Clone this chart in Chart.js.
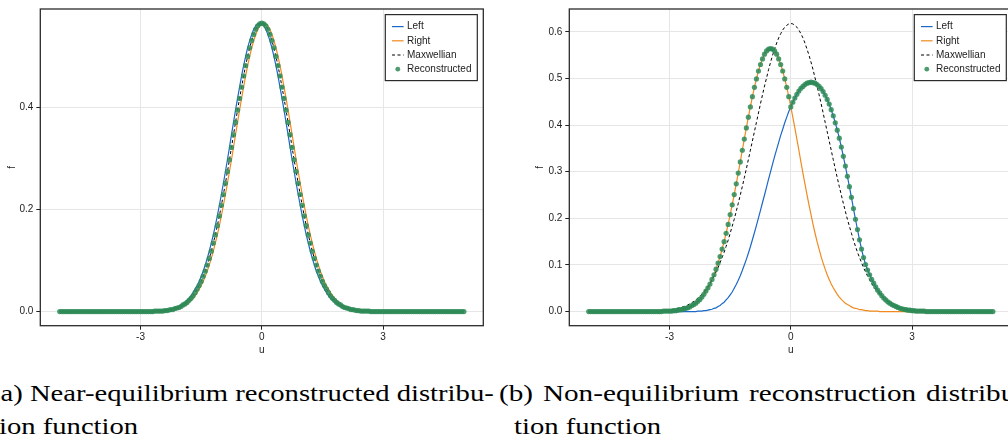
<!DOCTYPE html>
<html>
<head>
<meta charset="utf-8">
<script src="https://cdn.jsdelivr.net/npm/chart.js@4.4.1/dist/chart.umd.min.js"></script>
<style>
html, body { margin: 0; padding: 0; background: #fff; }
body { width: 1008px; height: 443px; overflow: hidden; position: relative; }
.panel { position: absolute; top: 0; }
.cap { position: absolute; font-family: "Liberation Serif", serif; font-size: 23px; color: #000; white-space: nowrap; line-height: 23px; transform: scaleX(1.245); transform-origin: 0 0; }
</style>
</head>
<body>
<div class="panel" style="left:0px"><canvas id="chartA" width="500" height="360"></canvas></div>
<div class="panel" style="left:528px"><canvas id="chartB" width="500" height="360"></canvas></div>
<div class="cap" style="left:-9px;top:382px">(a) Near-equilibrium reconstructed distribu-</div>
<div class="cap" style="left:-9px;top:415px">tion function</div>
<div class="cap" style="left:499px;top:382px;word-spacing:2px;transform:scaleX(1.27)">(b) Non-equilibrium reconstruction distribu-</div>
<div class="cap" style="left:514px;top:415px">tion function</div>
<script>
// velocity grid u (shared by both panels)
const uGrid = [
  -5,-4.95,-4.9,-4.85,-4.8,-4.75,-4.7,-4.65,-4.6,-4.55,
  -4.5,-4.45,-4.4,-4.35,-4.3,-4.25,-4.2,-4.15,-4.1,-4.05,
  -4,-3.95,-3.9,-3.85,-3.8,-3.75,-3.7,-3.65,-3.6,-3.55,
  -3.5,-3.45,-3.4,-3.35,-3.3,-3.25,-3.2,-3.15,-3.1,-3.05,
  -3,-2.95,-2.9,-2.85,-2.8,-2.75,-2.7,-2.65,-2.6,-2.55,
  -2.5,-2.45,-2.4,-2.35,-2.3,-2.25,-2.2,-2.15,-2.1,-2.05,
  -2,-1.95,-1.9,-1.85,-1.8,-1.75,-1.7,-1.65,-1.6,-1.55,
  -1.5,-1.45,-1.4,-1.35,-1.3,-1.25,-1.2,-1.15,-1.1,-1.05,
  -1,-0.95,-0.9,-0.85,-0.8,-0.75,-0.7,-0.65,-0.6,-0.55,
  -0.5,-0.45,-0.4,-0.35,-0.3,-0.25,-0.2,-0.15,-0.1,-0.05,
  0,
  0.05,0.1,0.15,0.2,0.25,0.3,0.35,0.4,0.45,0.5,
  0.55,0.6,0.65,0.7,0.75,0.8,0.85,0.9,0.95,1,
  1.05,1.1,1.15,1.2,1.25,1.3,1.35,1.4,1.45,1.5,
  1.55,1.6,1.65,1.7,1.75,1.8,1.85,1.9,1.95,2,
  2.05,2.1,2.15,2.2,2.25,2.3,2.35,2.4,2.45,2.5,
  2.55,2.6,2.65,2.7,2.75,2.8,2.85,2.9,2.95,3,
  3.05,3.1,3.15,3.2,3.25,3.3,3.35,3.4,3.45,3.5,
  3.55,3.6,3.65,3.7,3.75,3.8,3.85,3.9,3.95,4,
  4.05,4.1,4.15,4.2,4.25,4.3,4.35,4.4,4.45,4.5,
  4.55,4.6,4.65,4.7,4.75,4.8,4.85,4.9,4.95,5
];

// (a) near-equilibrium
const leftA = [
  0,0,0,0,0,0,0,0,0,0, 0,0,0,0,0,0,0,0,0,0, 0,0,0,0,0,0,0,0,0,0, 0,0,0,0,0,0,0,0,0,0,
  0,0,0,0,0,0,.001,.001,.001,.001,
  .001,.002,.002,.003,.004,.004,.006,.007,.008,.010,
  .013,.015,.018,.022,.026,.031,.037,.044,.051,.059,
  .069,.079,.091,.104,.118,.134,.150,.168,.187,.208,
  .229,.251,.274,.297,.321,.346,.370,.394,.417,.439,
  .461,.481,.499,.516,.530,.542,.552,.559,.563,.564,
  .563,
  .559,.552,.542,.530,.516,.499,.481,.461,.439,.417,
  .394,.370,.346,.321,.297,.274,.251,.229,.208,.187,
  .168,.150,.134,.118,.104,.091,.079,.069,.059,.051,
  .044,.037,.031,.026,.022,.018,.015,.013,.010,.008,
  .007,.006,.004,.004,.003,.002,.002,.001,.001,.001,
  .001,.001,0,0,0,0,0,0,0,0,
  0,0,0,0,0,0,0,0,0,0, 0,0,0,0,0,0,0,0,0,0, 0,0,0,0,0,0,0,0,0,0, 0,0,0,0,0,0,0,0,0,0
];
const rightA = [
  0,0,0,0,0,0,0,0,0,0, 0,0,0,0,0,0,0,0,0,0, 0,0,0,0,0,0,0,0,0,0, 0,0,0,0,0,0,0,0,0,0,
  0,0,0,0,0,0,0,0,.001,.001,
  .001,.001,.001,.002,.002,.003,.004,.004,.006,.007,
  .008,.010,.013,.015,.018,.022,.026,.031,.037,.044,
  .051,.059,.069,.079,.091,.104,.118,.134,.150,.168,
  .187,.208,.229,.251,.274,.297,.321,.346,.370,.394,
  .417,.439,.461,.481,.499,.516,.530,.542,.552,.559,
  .563,
  .564,.563,.559,.552,.542,.530,.516,.499,.481,.461,
  .439,.417,.394,.370,.346,.321,.297,.274,.251,.229,
  .208,.187,.168,.150,.134,.118,.104,.091,.079,.069,
  .059,.051,.044,.037,.031,.026,.022,.018,.015,.013,
  .010,.008,.007,.006,.004,.004,.003,.002,.002,.001,
  .001,.001,.001,.001,0,0,0,0,0,0,
  0,0,0,0,0,0,0,0,0,0, 0,0,0,0,0,0,0,0,0,0, 0,0,0,0,0,0,0,0,0,0, 0,0,0,0,0,0,0,0,0,0
];
const maxwA = [
  0,0,0,0,0,0,0,0,0,0, 0,0,0,0,0,0,0,0,0,0, 0,0,0,0,0,0,0,0,0,0, 0,0,0,0,0,0,0,0,0,0,
  0,0,0,0,0,0,0,.001,.001,.001,
  .001,.001,.002,.002,.003,.004,.004,.006,.007,.008,
  .010,.013,.015,.018,.022,.026,.031,.037,.044,.051,
  .059,.069,.079,.091,.104,.118,.134,.150,.168,.187,
  .208,.229,.251,.274,.297,.321,.346,.370,.394,.417,
  .439,.461,.481,.499,.516,.530,.542,.552,.559,.563,
  .564,
  .563,.559,.552,.542,.530,.516,.499,.481,.461,.439,
  .417,.394,.370,.346,.321,.297,.274,.251,.229,.208,
  .187,.168,.150,.134,.118,.104,.091,.079,.069,.059,
  .051,.044,.037,.031,.026,.022,.018,.015,.013,.010,
  .008,.007,.006,.004,.004,.003,.002,.002,.001,.001,
  .001,.001,.001,0,0,0,0,0,0,0,
  0,0,0,0,0,0,0,0,0,0, 0,0,0,0,0,0,0,0,0,0, 0,0,0,0,0,0,0,0,0,0, 0,0,0,0,0,0,0,0,0,0
];
const reconA = [
  0,0,0,0,0,0,0,0,0,0, 0,0,0,0,0,0,0,0,0,0, 0,0,0,0,0,0,0,0,0,0, 0,0,0,0,0,0,0,0,0,0,
  0,0,0,0,0,0,0,.001,.001,.001,
  .001,.001,.002,.002,.003,.004,.004,.006,.007,.008,
  .010,.013,.015,.018,.022,.026,.031,.037,.044,.051,
  .059,.069,.079,.091,.104,.118,.134,.150,.168,.187,
  .208,.229,.251,.274,.297,.321,.346,.370,.394,.417,
  .439,.461,.481,.499,.516,.530,.542,.552,.559,.563,
  .564,
  .563,.559,.552,.542,.530,.516,.499,.481,.461,.439,
  .417,.394,.370,.346,.321,.297,.274,.251,.229,.208,
  .187,.168,.150,.134,.118,.104,.091,.079,.069,.059,
  .051,.044,.037,.031,.026,.022,.018,.015,.013,.010,
  .008,.007,.006,.004,.004,.003,.002,.002,.001,.001,
  .001,.001,.001,0,0,0,0,0,0,0,
  0,0,0,0,0,0,0,0,0,0, 0,0,0,0,0,0,0,0,0,0, 0,0,0,0,0,0,0,0,0,0, 0,0,0,0,0,0,0,0,0,0
];

// (b) non-equilibrium
const leftB = [
  0,0,0,0,0,0,0,0,0,0, 0,0,0,0,0,0,0,0,0,0, 0,0,0,0,0,0,0,0,0,0, 0,0,0,0,0,0,0,0,0,0,
  0,0,0,0,0,0,0,0,0,0,
  0,0,0,0,.001,.001,.001,.002,.002,.003,
  .004,.005,.007,.008,.011,.013,.017,.020,.025,.030,
  .036,.042,.050,.058,.067,.077,.088,.100,.112,.125,
  .139,.154,.169,.185,.201,.217,.234,.250,.267,.284,
  .300,.317,.333,.348,.363,.378,.391,.405,.417,.429,
  .439,
  .449,.458,.466,.473,.479,.483,.487,.490,.491,.492,
  .491,.490,.487,.483,.478,.472,.464,.455,.445,.433,
  .420,.405,.389,.372,.353,.333,.312,.290,.268,.245,
  .221,.198,.176,.154,.134,.116,.101,.089,.079,.069,
  .061,.053,.046,.040,.034,.029,.025,.021,.018,.015,
  .013,.011,.009,.007,.006,.005,.004,.003,.003,.002,
  .002,.001,.001,.001,.001,.001,0,0,0,0,
  0,0,0,0,0,0,0,0,0,0, 0,0,0,0,0,0,0,0,0,0, 0,0,0,0,0,0,0,0,0,0
];
const rightB = [
  0,0,0,0,0,0,0,0,0,0, 0,0,0,0,0,0,0,0,0,0, 0,0,0,0,0,0,0,0,0,0,
  0,0,0,0,0,0,0,.001,.001,.001,
  .001,.001,.002,.002,.003,.004,.004,.006,.007,.008,
  .010,.013,.015,.018,.022,.026,.031,.037,.044,.051,
  .059,.069,.079,.091,.104,.118,.134,.150,.168,.187,
  .208,.229,.251,.274,.297,.321,.346,.370,.394,.417,
  .439,.461,.481,.499,.516,.530,.542,.552,.559,.563,
  .564,.563,.559,.552,.542,.530,.516,.499,.481,.461,
  .439,
  .417,.394,.370,.346,.321,.297,.274,.251,.229,.208,
  .187,.168,.150,.134,.118,.104,.091,.079,.069,.059,
  .051,.044,.037,.031,.026,.022,.018,.015,.013,.010,
  .008,.007,.006,.004,.004,.003,.002,.002,.001,.001,
  .001,.001,.001,0,0,0,0,0,0,0,
  0,0,0,0,0,0,0,0,0,0, 0,0,0,0,0,0,0,0,0,0, 0,0,0,0,0,0,0,0,0,0,
  0,0,0,0,0,0,0,0,0,0, 0,0,0,0,0,0,0,0,0,0
];
const maxwB = [
  0,0,0,0,0,0,0,0,0,0, 0,0,0,0,0,0,0,0,0,0, 0,0,0,0,0,0,0,0,0,0,
  .001,.001,.001,.001,.001,.001,.002,.002,.002,.003,
  .003,.004,.005,.006,.007,.008,.009,.011,.012,.014,
  .017,.019,.022,.025,.029,.033,.037,.042,.048,.054,
  .061,.068,.076,.085,.094,.105,.116,.127,.140,.153,
  .168,.183,.198,.215,.232,.250,.268,.287,.306,.326,
  .346,.366,.386,.406,.426,.446,.465,.484,.501,.519,
  .535,.550,.563,.576,.587,.596,.604,.610,.614,.617,
  .618,
  .617,.614,.610,.604,.596,.587,.576,.563,.550,.535,
  .519,.501,.484,.465,.446,.426,.406,.386,.366,.346,
  .326,.306,.287,.268,.250,.232,.215,.198,.183,.168,
  .153,.140,.127,.116,.105,.094,.085,.076,.068,.061,
  .054,.048,.042,.037,.033,.029,.025,.022,.019,.017,
  .014,.012,.011,.009,.008,.007,.006,.005,.004,.003,
  .003,.002,.002,.002,.001,.001,.001,.001,.001,.001,
  0,0,0,0,0,0,0,0,0,0, 0,0,0,0,0,0,0,0,0,0, 0,0,0,0,0,0,0,0,0,0
];
const reconB = [
  0,0,0,0,0,0,0,0,0,0, 0,0,0,0,0,0,0,0,0,0, 0,0,0,0,0,0,0,0,0,0,
  0,0,0,0,0,0,0,.001,.001,.001,
  .001,.001,.002,.002,.003,.004,.004,.006,.007,.008,
  .010,.013,.015,.018,.022,.026,.031,.037,.044,.051,
  .059,.069,.079,.091,.104,.118,.134,.150,.168,.187,
  .208,.229,.251,.274,.297,.321,.346,.370,.394,.417,
  .439,.461,.481,.499,.516,.530,.542,.552,.559,.563,
  .564,.563,.559,.552,.542,.530,.516,.499,.481,.461,
  .439,
  .449,.458,.466,.473,.479,.483,.487,.490,.491,.492,
  .491,.490,.487,.483,.478,.472,.464,.455,.445,.433,
  .420,.405,.389,.372,.353,.333,.312,.290,.268,.245,
  .221,.198,.176,.154,.134,.116,.101,.089,.079,.069,
  .061,.053,.046,.040,.034,.029,.025,.021,.018,.015,
  .013,.011,.009,.007,.006,.005,.004,.003,.003,.002,
  .002,.001,.001,.001,.001,.001,0,0,0,0,
  0,0,0,0,0,0,0,0,0,0, 0,0,0,0,0,0,0,0,0,0, 0,0,0,0,0,0,0,0,0,0
];

const xTicks = [-3, 0, 3];
const yTicksA = [0, 0.2, 0.4];
const yTicksB = [0, 0.1, 0.2, 0.3, 0.4, 0.5, 0.6];
const labels = ['Left', 'Right', 'Maxwellian', 'Reconstructed'];

const BLUE = '#1a68c8';
const ORANGE = '#f08a1e';
const GREEN = 'rgba(46,139,87,0.85)';
const FONT = 'Liberation Sans';

function pts(ys) {
  return uGrid.map((u, i) => ({ x: u, y: ys[i] }));
}

// box frame + boxed legend in the upper right corner
const frameLegend = {
  id: 'frameLegend',
  afterDraw(chart) {
    const ctx = chart.ctx, a = chart.chartArea;
    ctx.save();
    ctx.strokeStyle = '#2b2b2b';
    ctx.lineWidth = 1.3;
    ctx.strokeRect(a.left, a.top, a.right - a.left, a.bottom - a.top);

    const w = 92, h = 66;
    const x0 = a.right - 6 - w, y0 = a.top + 5.6;
    ctx.fillStyle = '#fff';
    ctx.fillRect(x0, y0, w, h);
    ctx.lineWidth = 1.2;
    ctx.strokeRect(x0, y0, w, h);
    ctx.font = '10px "' + FONT + '"';
    ctx.textBaseline = 'middle';
    chart.data.datasets.forEach((ds, i) => {
      const y = y0 + 12 + i * 14.2;
      if (ds.showLine === false) {
        ctx.fillStyle = GREEN;
        ctx.beginPath();
        ctx.arc(x0 + 12.5, y, 2.4, 0, Math.PI * 2);
        ctx.fill();
      } else {
        ctx.strokeStyle = ds.borderColor;
        ctx.lineWidth = 1.2;
        ctx.setLineDash(ds.borderDash || []);
        ctx.beginPath();
        ctx.moveTo(x0 + 6.7, y);
        ctx.lineTo(x0 + 18.3, y);
        ctx.stroke();
        ctx.setLineDash([]);
      }
      ctx.fillStyle = '#222';
      ctx.fillText(ds.label, x0 + 21.7, y);
    });
    ctx.restore();
  }
};

function makePanel(id, series, yMin, yMax, yTicks, yWidth, padRight) {
  new Chart(document.getElementById(id), {
    type: 'line',
    data: {
      datasets: [
        { label: labels[0], data: pts(series[0]), borderColor: BLUE, borderWidth: 1.2, pointRadius: 0, order: 4 },
        { label: labels[1], data: pts(series[1]), borderColor: ORANGE, borderWidth: 1.2, pointRadius: 0, order: 3 },
        { label: labels[2], data: pts(series[2]), borderColor: '#000', borderWidth: 1, borderDash: [3, 2.5], pointRadius: 0, order: 2 },
        { label: labels[3], data: pts(series[3]), showLine: false, pointRadius: 2.6, pointBackgroundColor: GREEN, pointBorderWidth: 0, order: 1 }
      ]
    },
    options: {
      responsive: false,
      animation: false,
      devicePixelRatio: 1,
      layout: { padding: { left: 0, right: padRight, top: 2.7, bottom: 0 } },
      plugins: { legend: { display: false }, tooltip: { enabled: false } },
      scales: {
        x: {
          type: 'linear',
          min: -5.48,
          max: 5.48,
          afterBuildTicks: s => { s.ticks = xTicks.map(v => ({ value: v })); },
          afterFit: s => { s.height = 34.3; },
          ticks: { color: '#222', font: { family: FONT, size: 10 }, padding: 2, maxRotation: 0, callback: v => String(v) },
          grid: { color: '#e6e6e6', lineWidth: 1, tickColor: '#222', tickLength: 4 },
          border: { display: false },
          title: { display: true, text: 'u', color: '#222', font: { family: FONT, size: 10 }, padding: { top: 0, bottom: 3.3 } }
        },
        y: {
          min: yMin,
          max: yMax,
          afterBuildTicks: s => { s.ticks = yTicks.map(v => ({ value: v })); },
          afterFit: s => { s.width = yWidth; },
          ticks: { color: '#222', font: { family: FONT, size: 10 }, padding: 3, callback: v => Number(v).toFixed(1) },
          grid: { color: '#e6e6e6', lineWidth: 1, tickColor: '#222', tickLength: 4 },
          border: { display: false },
          title: { display: true, text: 'f', color: '#222', font: { family: FONT, size: 10 }, padding: { top: 6, bottom: 0 } }
        }
      }
    },
    plugins: [frameLegend]
  });
}

makePanel('chartA', [leftA, rightA, maxwA, reconA], -0.0276, 0.5918, yTicksA, 40.3, 16.7);
makePanel('chartB', [leftB, rightB, maxwB, reconB], -0.0303, 0.649, yTicksB, 41.3, 15.7);
</script>
</body>
</html>
